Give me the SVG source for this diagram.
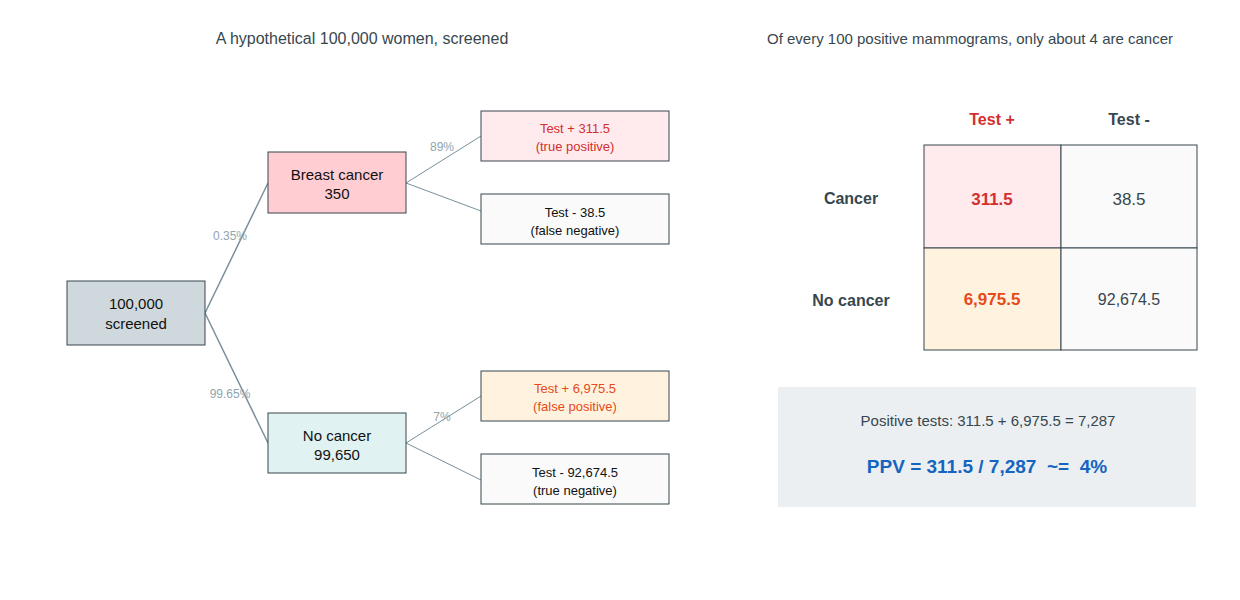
<svg xmlns="http://www.w3.org/2000/svg" width="1240" height="600" viewBox="0 0 1240 600">
<style>
text{font-family:"Liberation Sans",Arial,sans-serif;text-anchor:middle}
.box{stroke:#37474f;stroke-width:1}
.n{font-size:15px;fill:#111}
.l{font-size:13px}
.e{stroke:#78909c;fill:none}
.p{font-size:12px;fill:#90a4ae}
.h{font-size:16px;font-weight:bold}
</style>
<rect width="1240" height="600" fill="#fff"/>
<text x="362" y="44" font-size="16" fill="#37474f">A hypothetical 100,000 women, screened</text>
<text x="970" y="44" font-size="15" fill="#37474f">Of every 100 positive mammograms, only about 4 are cancer</text>
<g id="connectors">
<path class="e" stroke-width="1.5" d="M205 313L268 183M205 313L268 443"/>
<path class="e" d="M406 183L481 136M406 183L481 211M406 443L481 396M406 443L481 480"/>
<text class="p" x="230" y="240">0.35%</text>
<text class="p" x="230" y="398">99.65%</text>
<text class="p" x="442" y="151">89%</text>
<text class="p" x="442" y="421">7%</text>
</g>
<g id="root"><rect class="box" x="67" y="281" width="138" height="64" fill="#cfd8dc"/><text class="n" x="136" y="309">100,000</text><text class="n" x="136" y="329">screened</text></g>
<g id="bc"><rect class="box" x="268" y="152" width="138" height="61" fill="#ffcdd2"/><text class="n" x="337" y="180">Breast cancer</text><text class="n" x="337" y="199">350</text></g>
<g id="nc"><rect class="box" x="268" y="413" width="138" height="60" fill="#e0f2f1"/><text class="n" x="337" y="441">No cancer</text><text class="n" x="337" y="460">99,650</text></g>
<g id="tp"><rect class="box" x="481" y="111" width="188" height="50" fill="#ffebee"/><text class="l" x="575" y="133" fill="#d32f2f">Test +  311.5</text><text class="l" x="575" y="151" fill="#d32f2f">(true positive)</text></g>
<g id="fn"><rect class="box" x="481" y="194" width="188" height="50" fill="#fafafa"/><text class="l" x="575" y="217" fill="#111">Test -  38.5</text><text class="l" x="575" y="235" fill="#111">(false negative)</text></g>
<g id="fp"><rect class="box" x="481" y="371" width="188" height="50" fill="#fff3e0"/><text class="l" x="575" y="393" fill="#e64a19">Test +  6,975.5</text><text class="l" x="575" y="411" fill="#e64a19">(false positive)</text></g>
<g id="tn"><rect class="box" x="481" y="454" width="188" height="50" fill="#fafafa"/><text class="l" x="575" y="477" fill="#111">Test -  92,674.5</text><text class="l" x="575" y="495" fill="#111">(true negative)</text></g>
<g id="matrix">
<text class="h" x="992" y="125" fill="#d32f2f">Test +</text>
<text class="h" x="1129" y="125" fill="#37474f">Test -</text>
<text class="h" x="851" y="204" fill="#37474f">Cancer</text>
<text class="h" x="851" y="306" fill="#37474f">No cancer</text>
<rect class="box" x="924" y="145" width="137" height="103" fill="#ffebee"/>
<rect class="box" x="1061" y="145" width="136" height="103" fill="#fafafa"/>
<rect class="box" x="924" y="248" width="137" height="102" fill="#fff3e0"/>
<rect class="box" x="1061" y="248" width="136" height="102" fill="#fafafa"/>
<text x="992" y="205" font-size="17" font-weight="bold" fill="#d32f2f">311.5</text>
<text x="1129" y="205" font-size="17" fill="#37474f">38.5</text>
<text x="992" y="305" font-size="17" font-weight="bold" fill="#e64a19">6,975.5</text>
<text x="1129" y="305" font-size="16" fill="#37474f">92,674.5</text>
</g>
<g id="summary">
<rect x="778" y="387" width="418" height="120" fill="#eceff1"/>
<text x="988" y="426" font-size="15" fill="#37474f">Positive tests: 311.5 + 6,975.5 = 7,287</text>
<text x="987" y="473" font-size="19" font-weight="bold" fill="#1565c0" xml:space="preserve">PPV = 311.5 / 7,287  ~=  4%</text>
</g>
</svg>
